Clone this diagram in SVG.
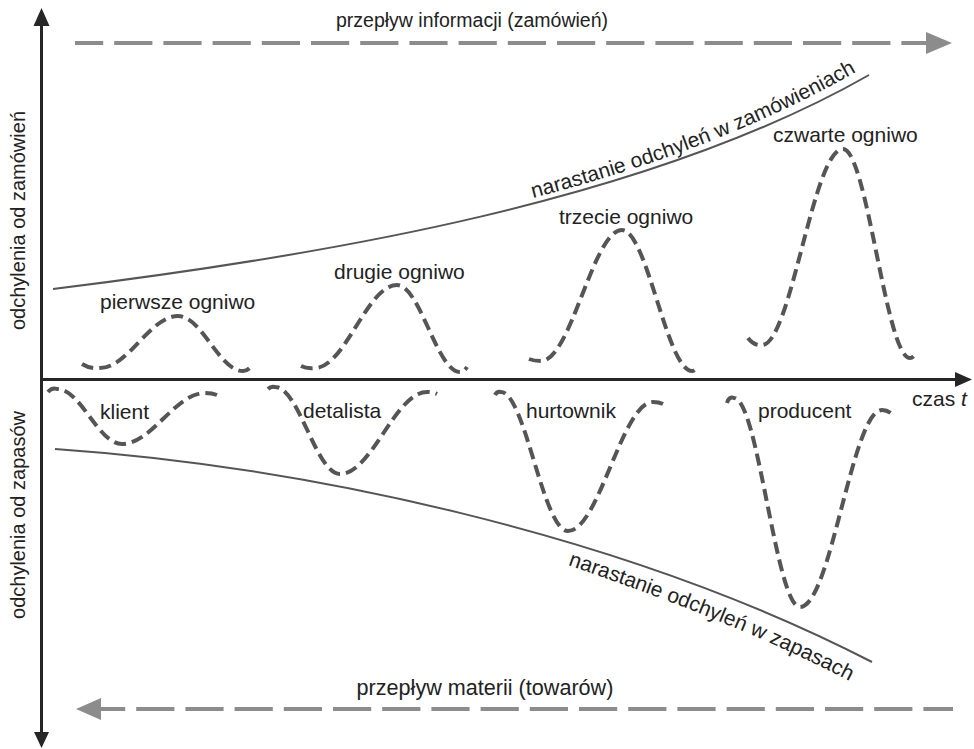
<svg xmlns="http://www.w3.org/2000/svg" width="974" height="749" viewBox="0 0 974 749">
  <style>
    .lbl { font-family: "Liberation Sans", Arial, Helvetica, sans-serif; font-size: 21px; fill: #222; }
    .ax { font-size: 20px; }
    .title-in { font-size: 19.5px; }
    .title-out { font-size: 21.6px; }
    .axis { stroke: #262626; stroke-width: 3; fill: none; }
    .head { fill: #262626; }
    .flow { stroke: #8c8c8c; stroke-width: 4; fill: none; stroke-dasharray: 38.2 11; }
    .flowhead { fill: #8c8c8c; }
    .trend { stroke: #555; stroke-width: 2; fill: none; }
    .wave { stroke: #555; stroke-width: 4; fill: none; stroke-dasharray: 12 6; }
  </style>
  <defs>
    <path id="pathOrders" d="M533,198 C656,166 770,123 868,65"/>
    <path id="pathStock" d="M568,565 C640,590 760,632 870,692"/>
  </defs>

  <!-- coordinate axes -->
  <g id="axes">
    <line class="axis" x1="41.5" y1="24" x2="41.5" y2="735"/>
    <polygon class="head" points="41.5,8 33.5,26 49.5,26"/>
    <polygon class="head" points="41.5,748 34,732 49,732"/>
    <line class="axis" x1="41" y1="379.5" x2="958" y2="379.5"/>
    <polygon class="head" points="972,379.5 955,372 955,387"/>
    <text class="lbl ax" transform="translate(25,220.5) rotate(-90)" text-anchor="middle">odchylenia od zamówień</text>
    <text class="lbl ax" transform="translate(25,515) rotate(-90)" text-anchor="middle">odchylenia od zapasów</text>
    <text class="lbl" x="912" y="406">czas <tspan font-style="italic">t</tspan></text>
  </g>

  <!-- information and material flows -->
  <g id="flow-orders">
    <path class="flow" d="M75,43 L930,43" stroke-dashoffset="10"/>
    <polygon class="flowhead" points="952,43 926,32 926,54"/>
    <text class="lbl title-in" x="472" y="27" text-anchor="middle">przepływ informacji (zamówień)</text>
  </g>
  <g id="flow-goods">
    <path class="flow" d="M100,709 L953,709" stroke-dashoffset="13" stroke-dasharray="38.3 11"/>
    <polygon class="flowhead" points="76,709 101,698 101,720"/>
    <text class="lbl title-out" x="485" y="695" text-anchor="middle">przepływ materii (towarów)</text>
  </g>

  <!-- growth trends -->
  <g id="trend-orders">
    <path class="trend" d="M53,289 C330,255 650,200 869,75"/>
    <text class="lbl"><textPath href="#pathOrders">narastanie odchyleń w zamówieniach</textPath></text>
  </g>
  <g id="trend-stock">
    <path class="trend" d="M55,449 C300,466 620,532 872,662"/>
    <text class="lbl"><textPath href="#pathStock">narastanie odchyleń w zapasach</textPath></text>
  </g>

  <!-- order deviations per link -->
  <g id="link-1">
    <path class="wave" d="M82,364 Q90,369 100,368 C128,368 150,316 178,316 C202,316 219,371 243,371 Q248,371 252,365"/>
    <text class="lbl" x="100" y="309">pierwsze ogniwo</text>
  </g>
  <g id="link-2">
    <path class="wave" d="M301,366 Q307,369 315,368 C345,368 367,285 397,285 C420,285 437,372 460,372 Q464,372 467,367"/>
    <text class="lbl" x="334" y="279">drugie ogniwo</text>
  </g>
  <g id="link-3">
    <path class="wave" d="M529,359 Q534,361 541,361 C571,361 593,230 622,230 C647,230 667,371 692,371 Q695,371 698,366"/>
    <text class="lbl" x="559" y="224">trzecie ogniwo</text>
  </g>
  <g id="link-4">
    <path class="wave" d="M748,338 Q754,346 762,345 C791,345 813,149 843,149 C867,149 886,358 910,358 Q913,358 916,353"/>
    <text class="lbl" x="773" y="142">czwarte ogniwo</text>
  </g>

  <!-- stock deviations per actor -->
  <g id="actor-client">
    <path class="wave" d="M48,392 Q52,387 57,389 C81,389 98,444 122,444 C152,444 175,393 205,393 Q212,393 217,395"/>
    <text class="lbl" x="100" y="419">klient</text>
  </g>
  <g id="actor-retailer">
    <path class="wave" d="M268,389 Q271,386 275,387 C299,387 316,474 340,474 C372,474 395,392 427,392 Q433,392 437,394"/>
    <text class="lbl" x="303" y="418">detalista</text>
  </g>
  <g id="actor-wholesaler">
    <path class="wave" d="M495,395 Q497,391 501,392 C525,392 543,531 568,531 C599,531 622,402 653,402 Q659,402 663,404"/>
    <text class="lbl" x="526" y="418">hurtownik</text>
  </g>
  <g id="actor-producer">
    <path class="wave" d="M727,403 Q729,396 734,398 C758,398 776,607 800,607 C831,607 852,410 882,410 Q888,410 893,415"/>
    <text class="lbl" x="758" y="418">producent</text>
  </g>
</svg>
